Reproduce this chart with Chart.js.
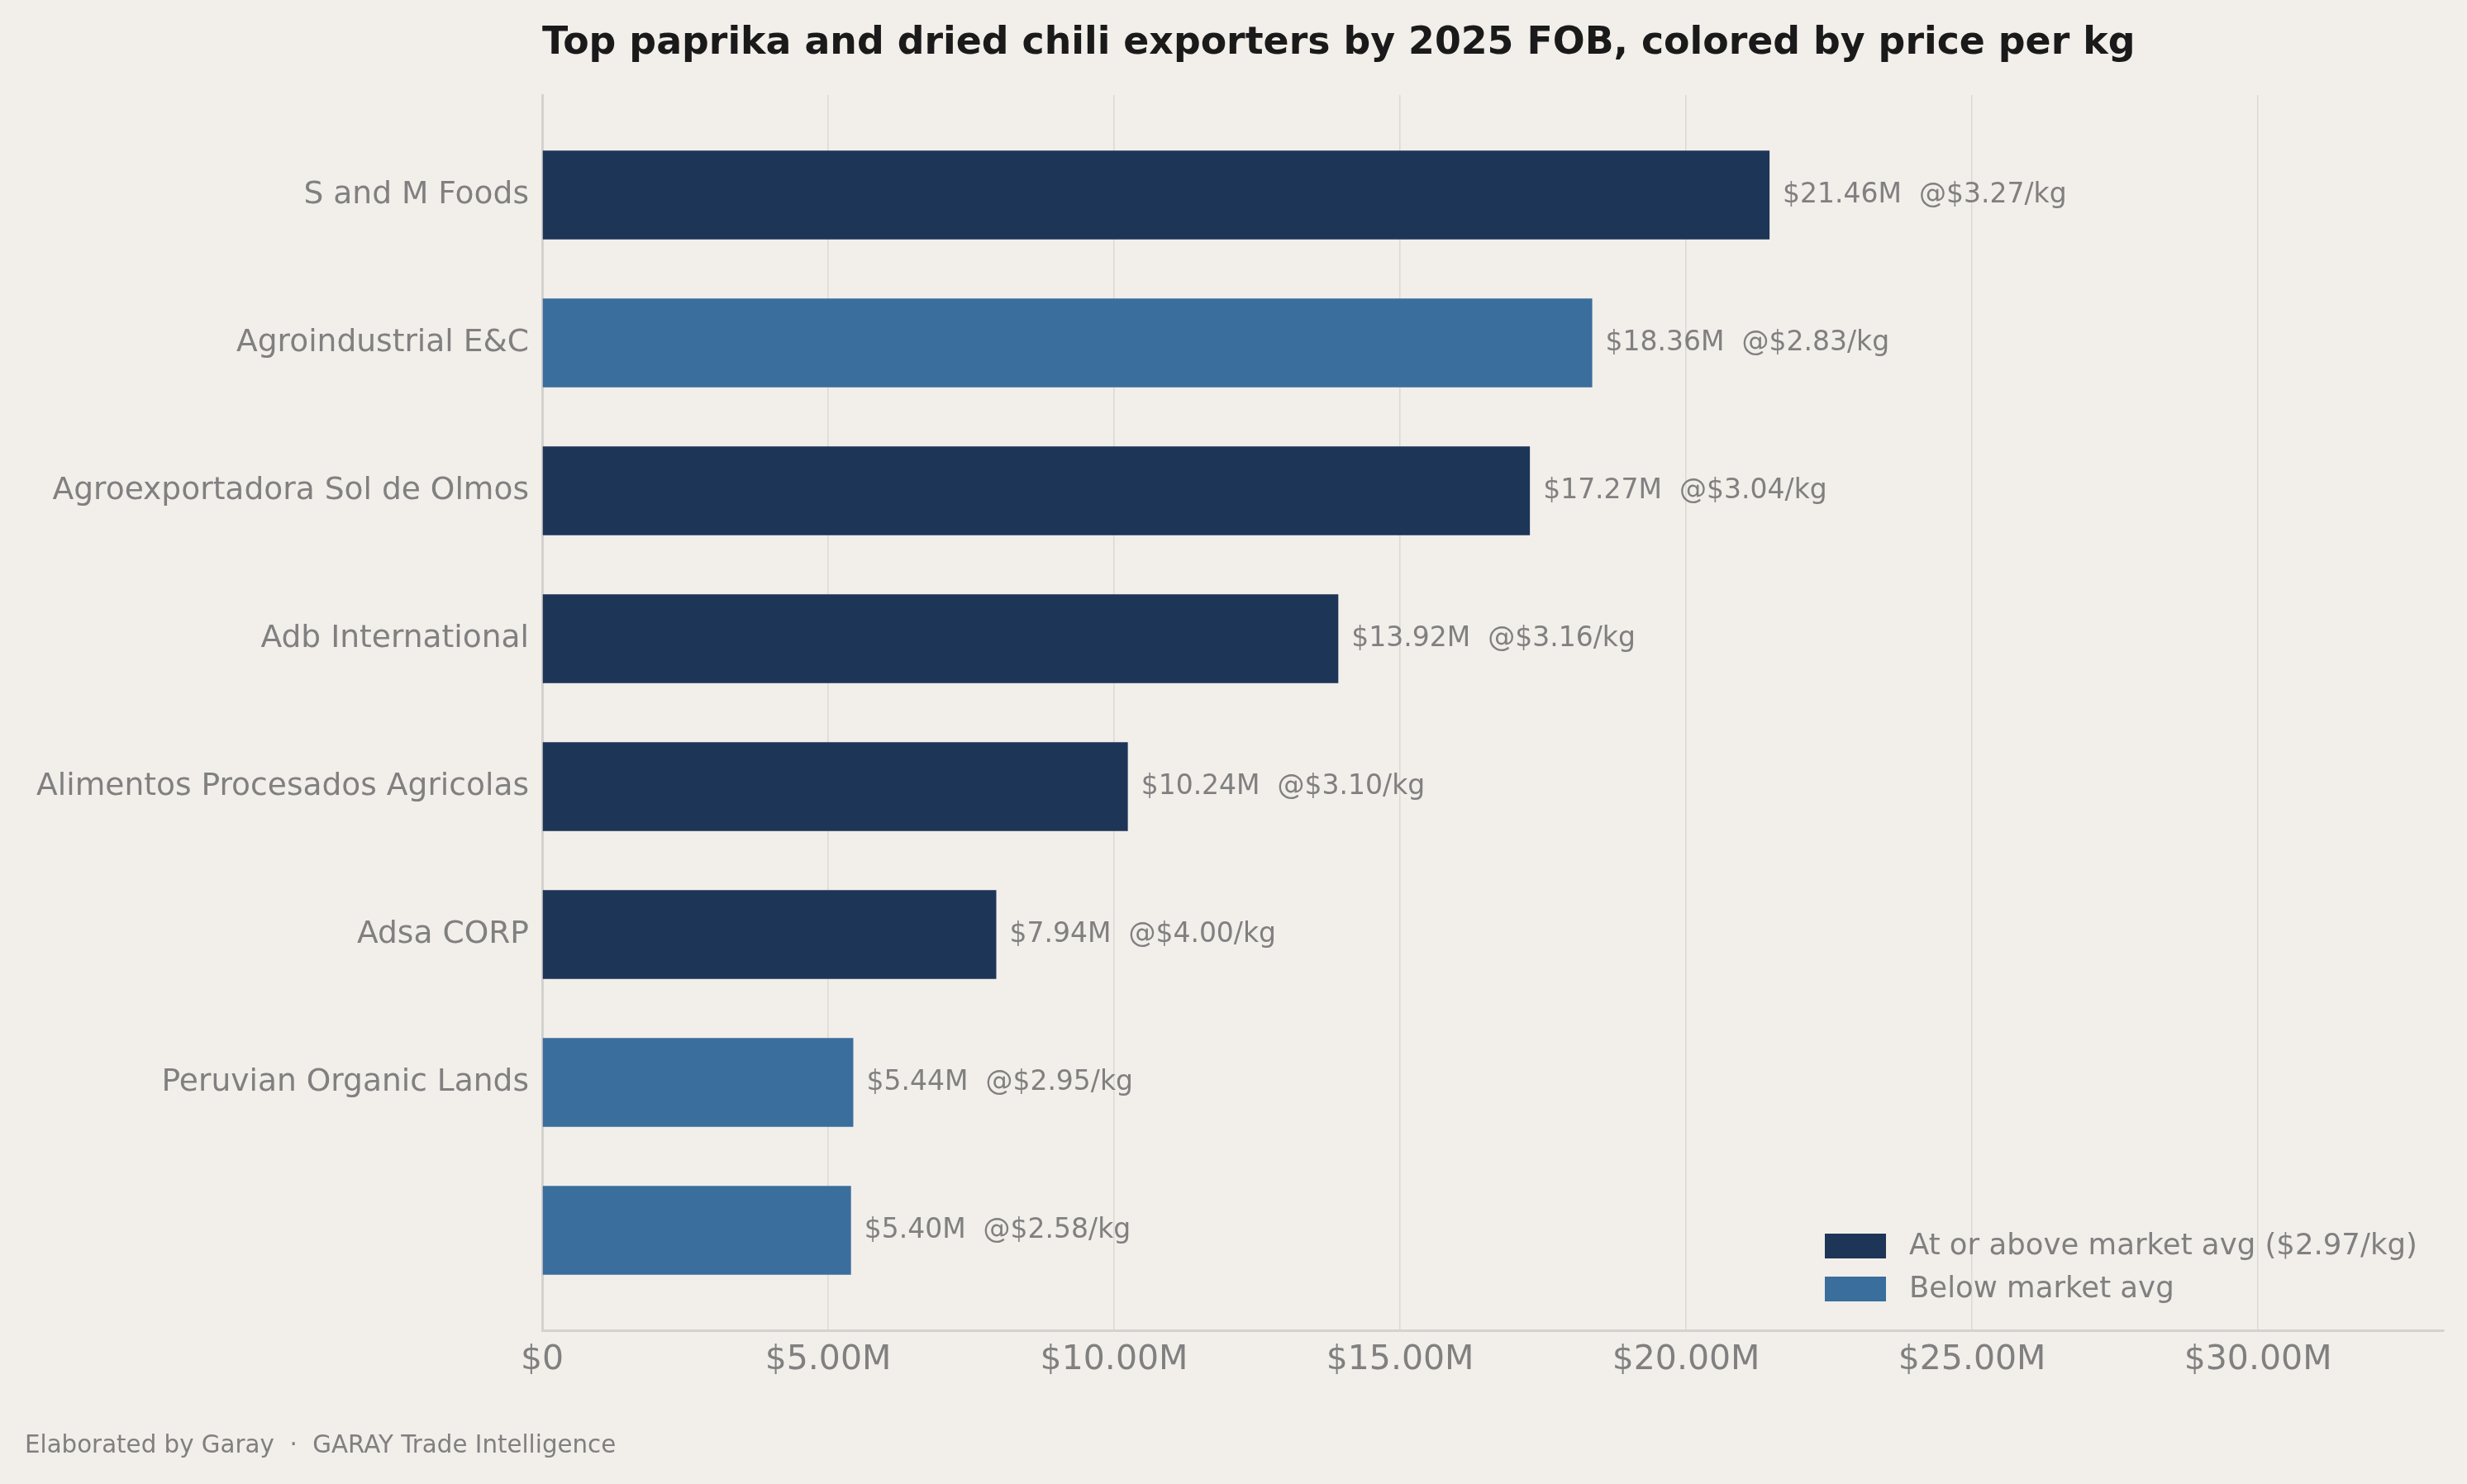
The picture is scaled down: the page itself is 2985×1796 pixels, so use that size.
<!DOCTYPE html>
<html>
<head>
<meta charset="utf-8">
<script src="https://cdn.jsdelivr.net/npm/chart.js@4.4.1/dist/chart.umd.min.js"></script>
<style>
  html, body { margin: 0; padding: 0; background: #f2eeea; }
  #wrap { width: 2985px; height: 1796px; position: relative; }
</style>
</head>
<body>
<div id="wrap"><canvas id="c"></canvas></div>
<script>
const categories = ["S and M Foods", "Agroindustrial E&C", "Agroexportadora Sol de Olmos", "Adb International", "Alimentos Procesados Agricolas", "Adsa CORP", "Peruvian Organic Lands", ""];
const fobMillions = [21.46, 18.36, 17.27, 13.92, 10.24, 7.94, 5.44, 5.40];
const pricePerKg = [3.27, 2.83, 3.04, 3.16, 3.10, 4.00, 2.95, 2.58];
const marketAvg = 2.97;
const xTicks = [0, 5, 10, 15, 20, 25, 30];
const titleText = "Top paprika and dried chili exporters by 2025 FOB, colored by price per kg";
const footerText = "Elaborated by Garay  \u00B7  GARAY Trade Intelligence";
const legendLabels = ["At or above market avg ($" + marketAvg.toFixed(2) + "/kg)", "Below market avg"];

const DARK = "#1d3557";
const LIGHT = "#3a6e9c";
const GRAY = "#808080";
const FONT = "'DejaVu Sans', sans-serif";

const barColors = pricePerKg.map(p => p >= marketAvg ? DARK : LIGHT);

const overlay = {
  id: 'overlay',
  afterDatasetsDraw(chart) {
    const ctx = chart.ctx;
    const area = chart.chartArea;
    ctx.save();
    // bar value labels
    const meta = chart.getDatasetMeta(0);
    ctx.font = "33px " + FONT;
    ctx.fillStyle = GRAY;
    ctx.textAlign = 'left';
    ctx.textBaseline = 'middle';
    meta.data.forEach((bar, i) => {
      const txt = "$" + fobMillions[i].toFixed(2) + "M  @$" + pricePerKg[i].toFixed(2) + "/kg";
      ctx.fillText(txt, bar.x + 16, bar.y);
    });
    // legend
    const colors = [DARK, LIGHT];
    ctx.font = "35.5px " + FONT;
    legendLabels.forEach((lab, k) => {
      const cy = 1508 + k * 52;
      ctx.fillStyle = colors[k];
      ctx.fillRect(2208, cy - 15, 74, 30);
      ctx.fillStyle = GRAY;
      ctx.fillText(lab, 2310, cy + 1);
    });
    // title
    ctx.font = "bold 45.8px " + FONT;
    ctx.fillStyle = "#1a1a1a";
    ctx.textBaseline = 'alphabetic';
    ctx.fillText(titleText, area.left, 65);
    // footer
    ctx.font = "29.3px " + FONT;
    ctx.fillStyle = GRAY;
    ctx.textBaseline = 'middle';
    ctx.fillText(footerText, 30, 1750);
    ctx.restore();
  }
};

new Chart(document.getElementById('c'), {
  type: 'bar',
  data: {
    datasets: [{
      data: fobMillions.map((v, i) => ({ x: v, y: i })),
      backgroundColor: barColors,
      borderWidth: 0,
      barPercentage: 0.6,
      categoryPercentage: 1.0
    }]
  },
  options: {
    indexAxis: 'y',
    responsive: true,
    maintainAspectRatio: false,
    devicePixelRatio: 1,
    animation: false,
    layout: { padding: { top: 115, right: 28, left: 0, bottom: 0 } },
    plugins: {
      legend: { display: false },
      title: { display: false },
      tooltip: { enabled: false }
    },
    scales: {
      x: {
        type: 'linear',
        position: 'bottom',
        min: 0,
        max: 33.25,
        afterFit(scale) { scale.height = 186; },
        afterBuildTicks(scale) { scale.ticks = xTicks.map(v => ({ value: v })); },
        ticks: {
          includeBounds: false,
          padding: 12,
          color: GRAY,
          font: { family: FONT, size: 41 },
          callback: v => v === 0 ? "$0" : "$" + Number(v).toFixed(2) + "M"
        },
        grid: { color: "#dcd9d5", lineWidth: 1.5, drawTicks: false },
        border: { display: true, color: "#d4d2cf", width: 3 }
      },
      y: {
        type: 'linear',
        reverse: true,
        offset: false,
        min: -0.676,
        max: 7.676,
        afterFit(scale) { scale.width = 656; },
        afterBuildTicks(scale) { scale.ticks = categories.map((_, i) => ({ value: i })); },
        ticks: {
          padding: 16,
          color: GRAY,
          font: { family: FONT, size: 37.6 },
          callback: v => categories[v] !== undefined ? categories[v] : ''
        },
        grid: { display: false, drawTicks: false },
        border: { display: true, color: "#d4d2cf", width: 3 }
      }
    }
  },
  plugins: [overlay]
});
</script>
</body>
</html>
